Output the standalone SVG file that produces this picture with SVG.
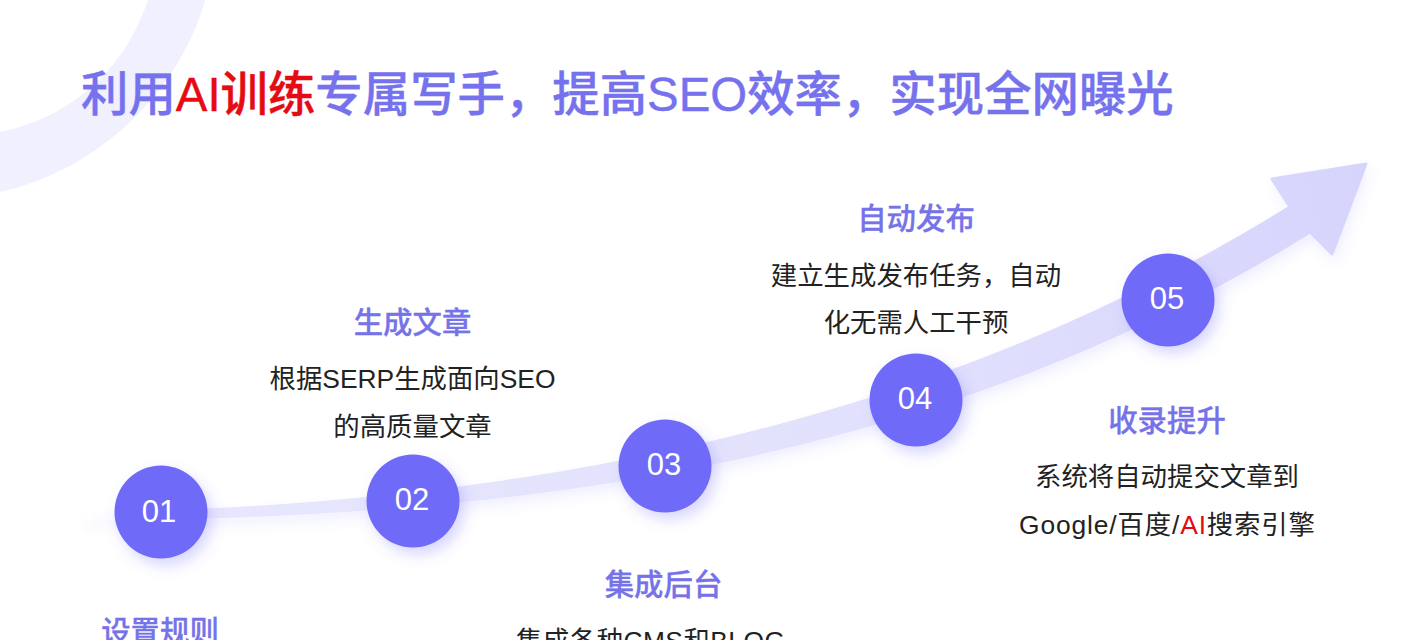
<svg xmlns="http://www.w3.org/2000/svg" width="1422" height="640" viewBox="0 0 1422 640">
<style>
text{font-family:"Liberation Sans","Noto Sans CJK SC",sans-serif}
.title{font-size:47.4px;font-weight:500;fill:#7672ee;stroke:#7672ee;stroke-width:.4}
.red{fill:#e60b12;stroke:#e60b12}
.head{font-size:29.4px;font-weight:500;fill:#7672e8;stroke:#7672e8;stroke-width:.3;text-anchor:middle}
.body{font-size:26.4px;fill:#222;text-anchor:middle}
.body .red{stroke:none}
.num{font-size:31px;fill:#fff;text-anchor:middle}
.dot{fill:#706bf8;filter:url(#dotShadow)}
</style>
<defs>
<filter id="dotShadow" x="-40%" y="-40%" width="190%" height="190%"><feDropShadow dx="5" dy="7" stdDeviation="7" flood-color="#716cfb" flood-opacity=".28"/></filter>
<filter id="bandShadow" x="-5%" y="-10%" width="110%" height="125%"><feDropShadow dx="3" dy="7" stdDeviation="6" flood-color="#716cfb" flood-opacity=".10"/></filter>
<linearGradient id="band" gradientUnits="userSpaceOnUse" x1="85" y1="516" x2="1368" y2="162">
<stop offset="0" stop-color="#fff"/><stop offset=".1" stop-color="#e7e6fe"/><stop offset=".6" stop-color="#e2e1fd"/><stop offset="1" stop-color="#d6d4fc"/>
</linearGradient>
</defs>
<rect width="1422" height="640" fill="#fff"/>
<path d="M205 0C180 90 100 170 0 192V132C70 118 125 70 148 0Z" fill="#f0f0fe"/>
<text class="title" x="81" y="111">利用<tspan class="red">AI训练</tspan>专属写手&#xFF0C;提高SEO效率&#xFF0C;实现全网曝光</text>
<g id="connectors">
<path id="arrow" filter="url(#bandShadow)" fill="url(#band)" stroke="url(#band)" stroke-width="3" stroke-linejoin="round" d="M85 516L208 510C620 490 980 400 1290 207L1272 179L1366 164L1332 254L1310 232C1000 425 640 505 208 517L85 517Z"/>
</g>
<g id="node-01"><circle class="dot" cx="161" cy="512" r="46.5"/><text class="num" x="159" y="522">01</text>
<text class="head" x="160" y="642">设置规则</text></g>
<g id="node-02"><circle class="dot" cx="413" cy="501" r="46.5"/><text class="num" x="412" y="510">02</text>
<text class="head" x="412.500" y="333">生成文章</text>
<text class="body" x="412.500" y="388">根据SERP生成面向SEO</text>
<text class="body" x="412.500" y="436">的高质量文章</text></g>
<g id="node-03"><circle class="dot" cx="665" cy="466" r="46.500"/><text class="num" x="664" y="475">03</text>
<text class="head" x="663.500" y="595">集成后台</text>
<text class="body" x="650.500" y="650" textLength="269" lengthAdjust="spacing">集成各种CMS和BLOG</text></g>
<g id="node-04"><circle class="dot" cx="916" cy="400" r="46.500"/><text class="num" x="915" y="409">04</text>
<text class="head" x="916" y="229">自动发布</text>
<text class="body" x="916" y="285">建立生成发布任务&#xFF0C;自动</text>
<text class="body" x="916" y="332">化无需人工干预</text></g>
<g id="node-05"><circle class="dot" cx="1168" cy="300" r="46.500"/><text class="num" x="1167" y="309">05</text>
<text class="head" x="1167" y="431">收录提升</text>
<text class="body" x="1167" y="486">系统将自动提交文章到</text>
<text class="body" x="1167" y="534" textLength="296" lengthAdjust="spacing">Google/百度/<tspan class="red">AI</tspan>搜索引擎</text></g>
</svg>
